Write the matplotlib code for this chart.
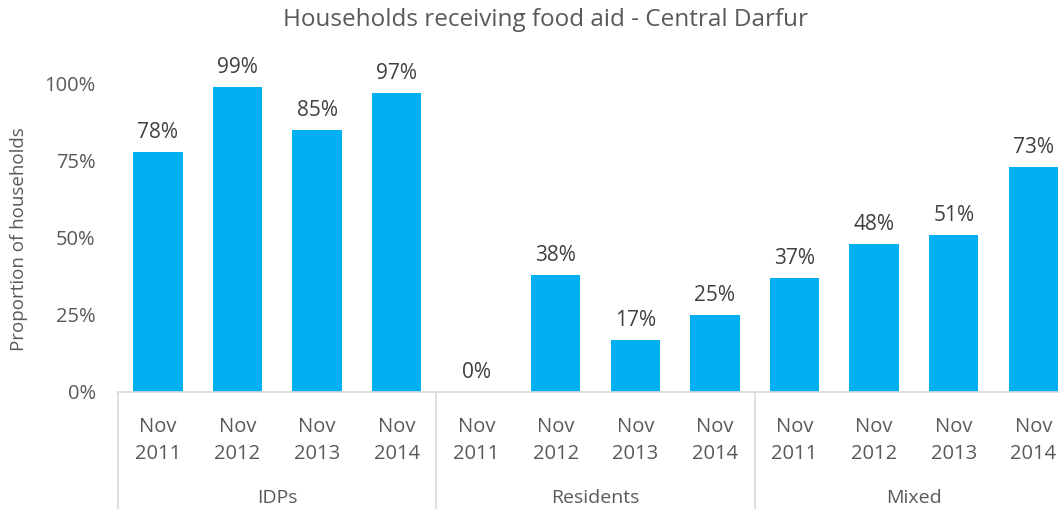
import matplotlib
matplotlib.use("Agg")
import matplotlib.pyplot as plt
from matplotlib.lines import Line2D
import numpy as np

plt.rcParams['font.family'] = ['Open Sans', 'DejaVu Sans']

groups = ["IDPs", "Residents", "Mixed"]
periods = ["Nov\n2011", "Nov\n2012", "Nov\n2013", "Nov\n2014"]
values = [0.78, 0.99, 0.85, 0.97,
          0.00, 0.38, 0.17, 0.25,
          0.37, 0.48, 0.51, 0.73]

bar_color = "#00B0F0"
text_color = "#595959"
line_color = "#D9D9D9"

fig = plt.figure(figsize=(10.59, 5.09), dpi=100)
# the plot area runs a bit past the right edge, as in the original crop
ax = fig.add_axes([0.1115, 0.2299, 0.9018, 0.666])

x = np.arange(len(values))
bars = ax.bar(x, values, width=0.62, color=bar_color)
for xi, v in zip(x, values):
    ax.text(xi, v + 0.028, "{:.0%}".format(v), ha="center", va="bottom",
            fontsize=15, color="#404040")

ax.set_xlim(-0.5, len(values) - 0.5)
ax.set_ylim(0, 1.1)
ax.set_yticks([0, 0.25, 0.5, 0.75, 1.0])
ax.set_yticklabels(["0%", "25%", "50%", "75%", "100%"])
ax.tick_params(axis="y", length=0, labelsize=14.5, labelcolor=text_color, pad=16)
ax.set_xticks(x)
ax.set_xticklabels(periods * len(groups))
ax.tick_params(axis="x", length=0, labelsize=14.5, labelcolor=text_color, pad=18)
for lbl in ax.get_xticklabels():
    lbl.set_linespacing(1.45)

for s in ["top", "right", "left"]:
    ax.spines[s].set_visible(False)
ax.spines["bottom"].set_color(line_color)
ax.spines["bottom"].set_linewidth(1.2)

# group separators and group names below the tick labels
n = len(periods)
for g in range(len(groups) + 1):
    xs = g * n - 0.5
    ax.add_line(Line2D([xs, xs], [0, -0.4], transform=ax.transData,
                       color=line_color, lw=1.2, clip_on=False))
for g, name in enumerate(groups):
    ax.text(g * n + (n - 1) / 2, -0.345, name, ha="center", va="center",
            fontsize=14, color=text_color, clip_on=False)

ax.set_ylabel("Proportion of households", fontsize=13.5, color=text_color)
ax.yaxis.set_label_coords(-0.094, 0.45)
fig.text(0.515, 0.96, "Households receiving food aid - Central Darfur",
         ha="center", va="center", fontsize=17.5, color=text_color)

fig.savefig("out.png", dpi=100)
